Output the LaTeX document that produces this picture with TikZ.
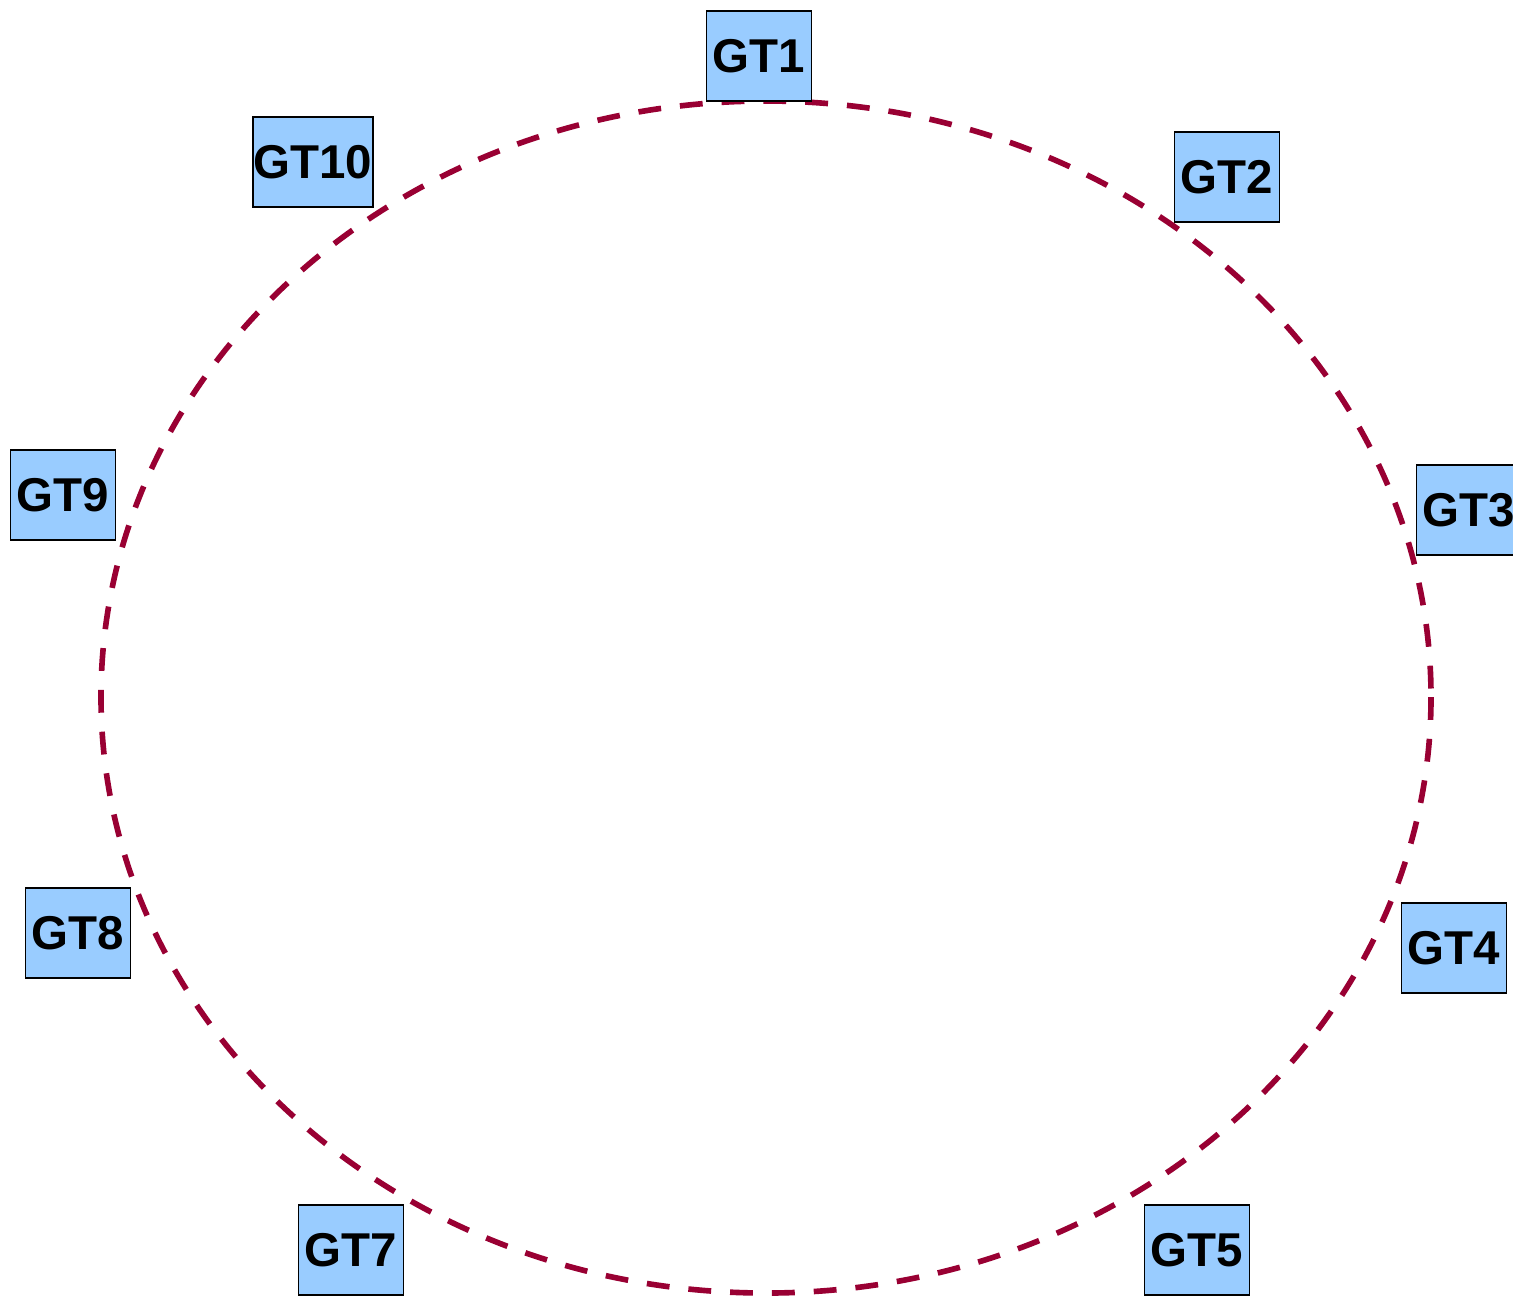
\documentclass[tikz,border=0pt]{standalone}
\usepackage{fontspec}
\setmainfont{Liberation Sans}
\begin{document}
\begin{tikzpicture}[x=0.01cm,y=-0.01cm,
  gtbox/.style={draw=black, line width=0.5pt, fill={rgb,255:red,153;green,204;blue,255},
    minimum width=1.05cm, minimum height=0.9cm, inner sep=0pt,
    font=\fontsize{13.5}{15}\selectfont\bfseries},
  ring/.style={draw={rgb,255:red,153;green,0;blue,51}, line width=1.6pt,
    dash pattern=on 6.5pt off 5.4pt}]
\useasboundingbox (0,0) rectangle (1513,1296);
\draw[ring] (766,697) ellipse [x radius=665, y radius=596];
\node[gtbox] (gt1) at (759,56) {GT1};
\node[gtbox] (gt2) at (1227,177) {GT2};
\node[gtbox] (gt3) at (1469,510) {GT3};
\node[gtbox] (gt4) at (1454,948) {GT4};
\node[gtbox] (gt5) at (1197,1250) {GT5};
\node[gtbox] (gt7) at (351,1250) {GT7};
\node[gtbox] (gt8) at (78,933) {GT8};
\node[gtbox] (gt9) at (63,495) {GT9};
\node[gtbox, minimum width=1.2cm] (gt10) at (313,162) {GT10};
\end{tikzpicture}
\end{document}
